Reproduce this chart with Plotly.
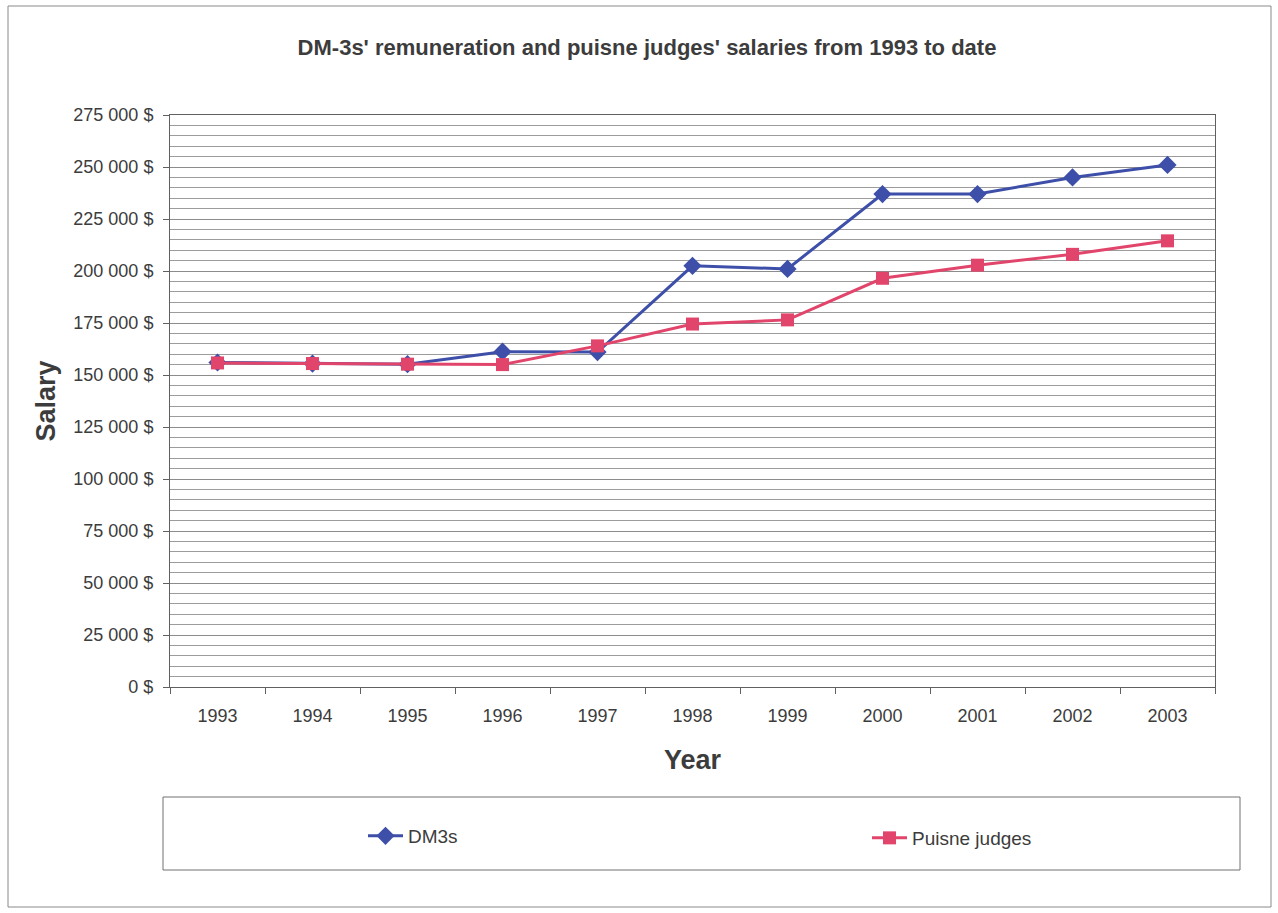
import plotly.graph_objects as go

# Annual salary figures (Canadian dollars)
years = ["1993", "1994", "1995", "1996", "1997", "1998", "1999", "2000", "2001", "2002", "2003"]
dm3_salary = [156000, 155500, 155200, 161200, 161000, 202500, 201000, 237000, 237000, 245000, 251000]
judges_salary = [155800, 155500, 155200, 155000, 164000, 174500, 176500, 196500, 202800, 208000, 214500]

y_ticks = list(range(0, 275001, 25000))
y_tick_text = [f"{v:,}".replace(",", " ") + " $" for v in y_ticks]

BLUE = "#3d4fa8"
RED = "#e2456b"
TEXT = "#3c3c3c"
FONT = "Liberation Sans, Arial, sans-serif"

fig = go.Figure()
fig.add_trace(go.Scatter(
    x=years, y=dm3_salary, name="DM3s", mode="lines+markers",
    line=dict(color=BLUE, width=3),
    marker=dict(symbol="diamond", size=14, color=BLUE),
    legend="legend",
))
fig.add_trace(go.Scatter(
    x=years, y=judges_salary, name="Puisne judges", mode="lines+markers",
    line=dict(color=RED, width=3),
    marker=dict(symbol="square", size=13, color=RED),
    legend="legend2",
))

# plot-area geometry (pixels) used for placing legends and frames
L, R, T, B = 170, 63, 115, 226
W, H = 1278, 913
pw, ph = W - L - R, H - T - B

def px(x):
    return (x - L) / pw

def py(y):
    return (H - B - y) / ph

shapes = [
    # legend frame
    dict(type="rect", xref="paper", yref="paper",
         x0=px(163), x1=px(1240), y0=py(870), y1=py(797),
         line=dict(color="#707070", width=1), fillcolor="rgba(0,0,0,0)"),
    # chart-area frame
    dict(type="rect", xref="paper", yref="paper",
         x0=px(8), x1=px(1271), y0=py(907), y1=py(6),
         line=dict(color="#8a8a8a", width=1), fillcolor="rgba(0,0,0,0)"),
]

legend_common = dict(
    orientation="h", xanchor="left", yanchor="middle",
    font=dict(size=19, color=TEXT, family=FONT),
    bgcolor="rgba(0,0,0,0)", itemwidth=35,
)

fig.update_layout(
    width=W, height=H,
    margin=dict(l=L, r=R, t=T, b=B),
    paper_bgcolor="white", plot_bgcolor="white",
    font=dict(family=FONT, color=TEXT, size=18),
    title=dict(
        text="<b>DM-3s' remuneration and puisne judges' salaries from 1993 to date</b>",
        x=647 / W, xanchor="center", xref="container",
        y=1 - 47 / H, yanchor="middle", yref="container",
        font=dict(size=22, color=TEXT, family=FONT),
    ),
    xaxis=dict(
        type="category", range=[-0.5, 10.5],
        showgrid=False, showline=True, linecolor="#606060", linewidth=1,
        mirror=True,
        ticks="outside", ticklen=6, tickcolor="#606060",
        tickson="boundaries", ticklabelstandoff=12,
        tickfont=dict(size=18, color=TEXT),
        title=dict(text="<b>Year</b>", font=dict(size=27, color=TEXT), standoff=25),
    ),
    yaxis=dict(
        range=[0, 275000],
        tickvals=y_ticks, ticktext=y_tick_text,
        showline=True, linecolor="#606060", linewidth=1, mirror=True,
        ticks="outside", ticklen=6, tickcolor="#606060",
        ticklabelstandoff=6,
        tickfont=dict(size=18, color=TEXT),
        showgrid=True, gridcolor="#8c8c8c", gridwidth=1,
        minor=dict(dtick=5000, showgrid=True, gridcolor="#9c9c9c", gridwidth=1),
        zeroline=False,
        title=dict(text="<b>Salary</b>", font=dict(size=27, color=TEXT), standoff=9),
    ),
    showlegend=True,
    legend=dict(x=px(363), y=py(836), **legend_common),
    legend2=dict(x=px(867), y=py(838), **legend_common),
    shapes=shapes,
)

fig.write_html("out.html")
